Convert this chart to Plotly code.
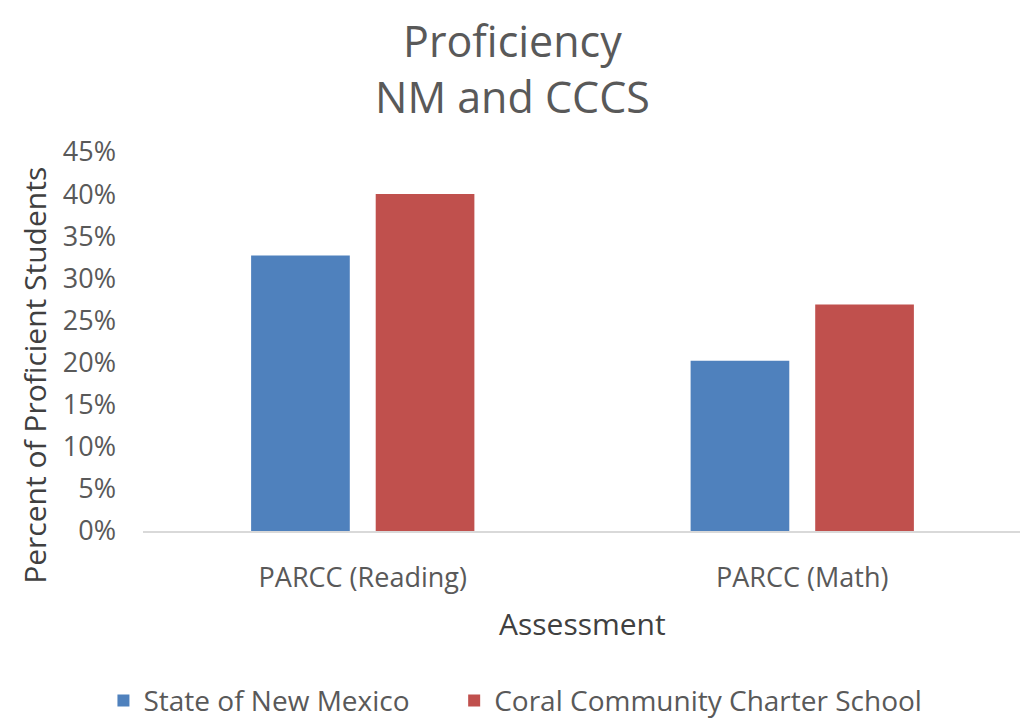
import plotly.graph_objects as go

categories = ["PARCC (Reading)", "PARCC (Math)"]
state_nm = [0.327, 0.202]
coral_cccs = [0.400, 0.269]
series_names = ["State of New Mexico", "Coral Community Charter School"]
tick_vals = [0, 0.05, 0.10, 0.15, 0.20, 0.25, 0.30, 0.35, 0.40, 0.45]

FONT = "Open Sans"
GREY = "#595959"
DARK = "#404040"

fig = go.Figure()
fig.add_trace(go.Bar(x=categories, y=state_nm, name=series_names[0],
                     marker=dict(color="#4F81BD", line=dict(width=0)), legend="legend"))
fig.add_trace(go.Bar(x=categories, y=coral_cccs, name=series_names[1],
                     marker=dict(color="#C0504D", line=dict(width=0)), legend="legend2"))

legend_common = dict(orientation="h", yanchor="middle", y=-0.448,
                     font=dict(size=28, color=GREY), bgcolor="rgba(0,0,0,0)")

# page body has an 8px default margin; figure sized so it ends at the window edge
fig.update_layout(
    width=1020, height=710,
    paper_bgcolor="white", plot_bgcolor="white",
    margin=dict(l=135, r=6, t=144, b=187, autoexpand=False),
    barmode="group", bargap=0.433, bargroupgap=0.208,
    font=dict(family=FONT, color=GREY, size=26),
    xaxis=dict(showline=True, linecolor="#D9D9D9", linewidth=2,
               ticks="", tickfont=dict(size=27, color=GREY),
               ticklabelstandoff=22, automargin=False),
    yaxis=dict(range=[0, 0.45], tickvals=tick_vals, tickformat=".0%",
               showgrid=False, zeroline=False, showline=False, ticks="",
               tickfont=dict(size=27, color=GREY), ticklabelstandoff=26,
               automargin=False),
    legend=dict(x=-0.045, xanchor="left", **legend_common),
    legend2=dict(x=0.354, xanchor="left", **legend_common),
    showlegend=True,
    annotations=[
        dict(text="Proficiency<br>NM and CCCS", xref="paper", yref="paper",
             x=0.42, y=1.376, xanchor="center", yanchor="top", showarrow=False,
             font=dict(size=43, color=GREY)),
        dict(text="Percent of Proficient Students", xref="paper", yref="paper",
             x=-0.1229, y=0.412, xanchor="center", yanchor="middle", textangle=-90,
             showarrow=False, font=dict(size=30, color=DARK)),
        dict(text="Assessment", xref="paper", yref="paper", x=0.5, y=-0.243,
             xanchor="center", yanchor="middle", showarrow=False,
             font=dict(size=30, color=DARK)),
    ],
)

fig.write_html("out.html")
